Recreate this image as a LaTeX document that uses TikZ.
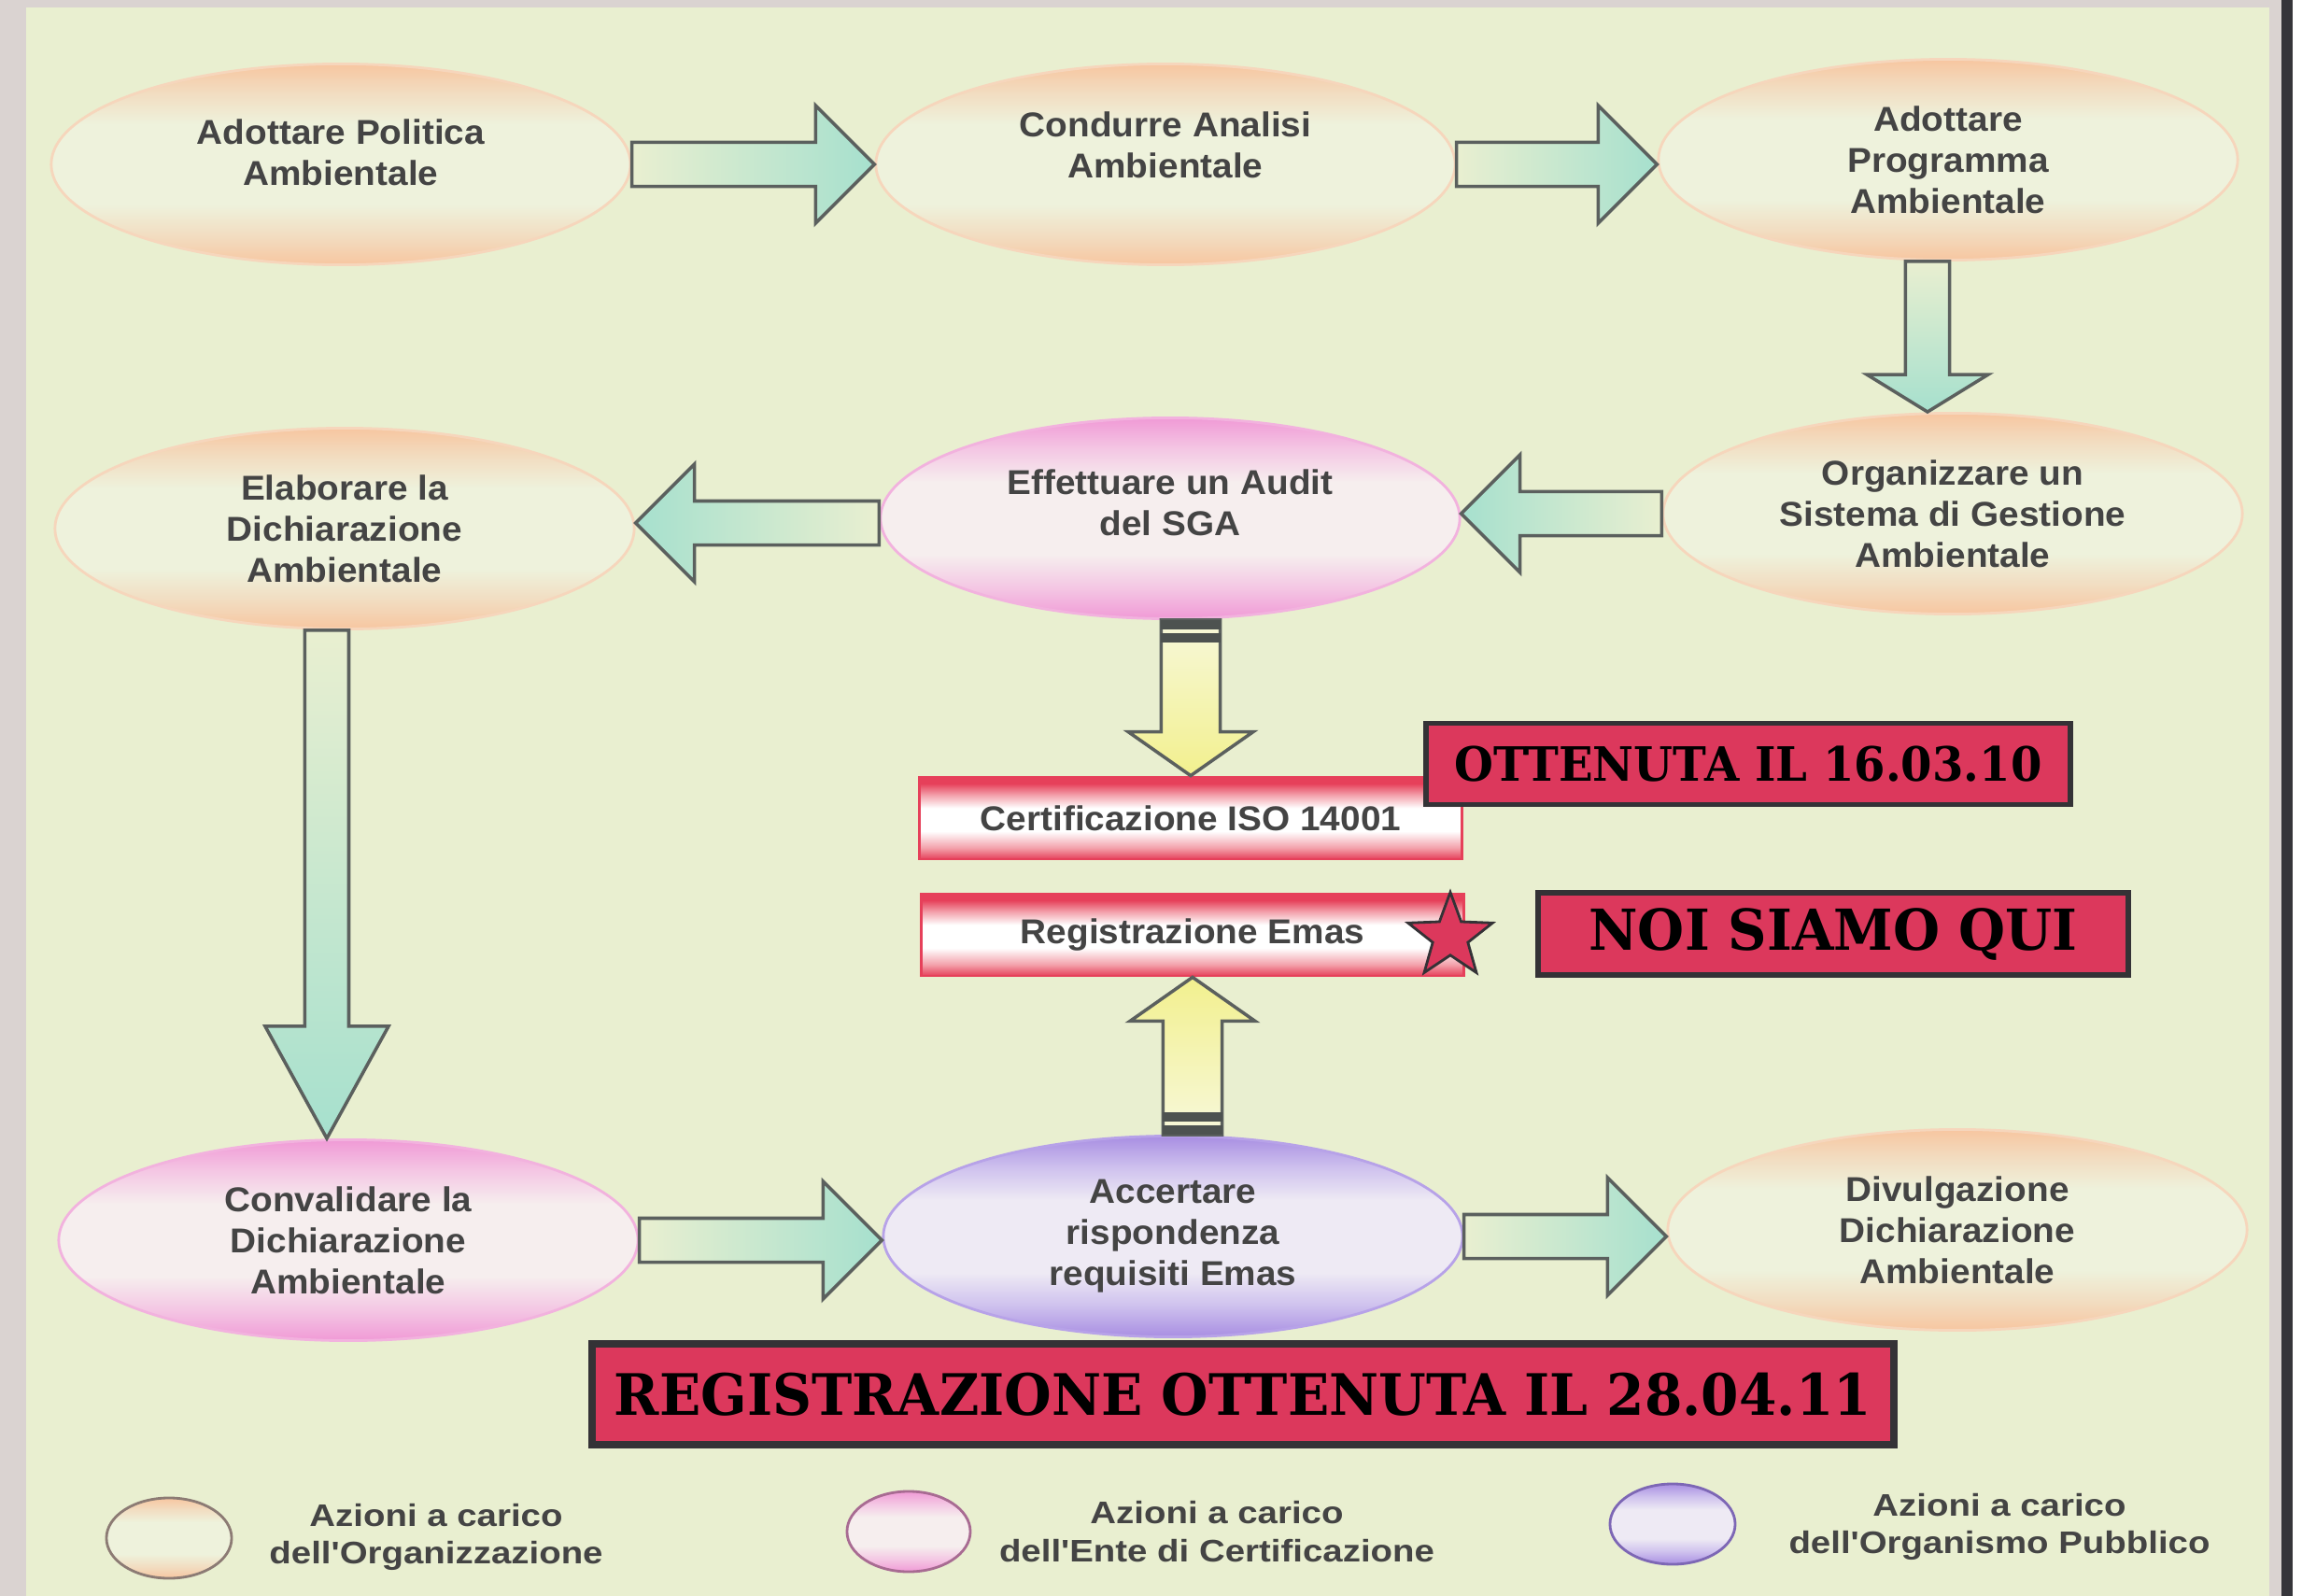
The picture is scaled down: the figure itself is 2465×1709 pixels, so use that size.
\documentclass[tikz,border=0pt]{standalone}
\usepackage{fontspec}
\setmainfont{Liberation Sans}[FakeStretch=1.05]
\newfontfamily\widesans[FakeStretch=1.15]{Liberation Sans}
\newfontfamily\slabfont[FakeStretch=0.95]{DejaVu Serif}
\usepackage{tikz}
\usetikzlibrary{shapes.geometric,calc}

\definecolor{bggreen}{HTML}{E9EFD0}
\definecolor{ovalpale}{HTML}{EEF2DC}
\definecolor{framegrey}{HTML}{DAD3D1}
\definecolor{darkstrip}{HTML}{36353A}
\definecolor{peach}{HTML}{F7C6A0}
\definecolor{peachsoft}{HTML}{F2DCC0}
\definecolor{peachline}{HTML}{F6D6BC}
\definecolor{pinky}{HTML}{F09AD6}
\definecolor{pinksoft}{HTML}{F4C8E4}
\definecolor{pinkpale}{HTML}{F6EEEE}
\definecolor{pinkline}{HTML}{F2B2DE}
\definecolor{lilac}{HTML}{A88EE2}
\definecolor{lilacsoft}{HTML}{CFC2EE}
\definecolor{lilacpale}{HTML}{EEEAF4}
\definecolor{lilacline}{HTML}{B7A2E8}
\definecolor{tealfill}{HTML}{A6E0CE}
\definecolor{arrowgrey}{HTML}{5B605E}
\definecolor{lemon}{HTML}{F2F08E}
\definecolor{lemonpale}{HTML}{F7F8DA}
\definecolor{barred}{HTML}{E6405A}
\definecolor{barsoft}{HTML}{F3A2AC}
\definecolor{boxred}{HTML}{DC385C}
\definecolor{stampline}{HTML}{343236}
\definecolor{textgrey}{HTML}{444444}
\definecolor{keybrown}{HTML}{8C7B74}
\definecolor{keypink}{HTML}{A86B92}
\definecolor{keylilac}{HTML}{7D67B5}

\pgfdeclareverticalshading{peachoval}{100bp}{color(0bp)=(peach); color(25bp)=(peach); color(32bp)=(peachsoft); color(40bp)=(ovalpale); color(60bp)=(ovalpale); color(68bp)=(peachsoft); color(75bp)=(peach); color(100bp)=(peach)}
\pgfdeclareverticalshading{pinkoval}{100bp}{color(0bp)=(pinky); color(25bp)=(pinky); color(33bp)=(pinksoft); color(41bp)=(pinkpale); color(59bp)=(pinkpale); color(67bp)=(pinksoft); color(75bp)=(pinky); color(100bp)=(pinky)}
\pgfdeclareverticalshading{lilacoval}{100bp}{color(0bp)=(lilac); color(25bp)=(lilac); color(33bp)=(lilacsoft); color(41bp)=(lilacpale); color(59bp)=(lilacpale); color(67bp)=(lilacsoft); color(75bp)=(lilac); color(100bp)=(lilac)}
\pgfdeclareverticalshading{redbar}{100bp}{color(0bp)=(barred); color(25bp)=(barred); color(32bp)=(barsoft); color(42bp)=(white); color(56bp)=(white); color(64bp)=(barsoft); color(71bp)=(barred); color(100bp)=(barred)}

\newcommand{\asw}{0.235cm}
\newcommand{\ahw}{0.63cm}
\newcommand{\ahl}{0.63cm}
\newcommand{\blockarrow}[3][]{%
  \path (#2) coordinate (at0) (#3) coordinate (at1);
  \draw[blockarrow,#1] ($(at0)!\asw!90:(at1)$)
    -- ($(at1)!\ahl!(at0)!\asw!90:(at1)$)
    -- ($(at1)!\ahl!(at0)!\ahw!90:(at1)$)
    -- (at1)
    -- ($(at1)!\ahl!(at0)!\ahw!-90:(at1)$)
    -- ($(at1)!\ahl!(at0)!\asw!-90:(at1)$)
    -- ($(at0)!\asw!-90:(at1)$) -- cycle;}

\tikzset{
  arrow shaft/.code={\renewcommand{\asw}{#1}},
  arrow head/.code={\renewcommand{\ahw}{#1}},
  arrow length/.code={\renewcommand{\ahl}{#1}},
  oval/.style={ellipse, minimum width=6.2cm, minimum height=2.15cm, inner sep=0pt,
    line width=0.8pt, align=center, text=textgrey, font=\bfseries\fontsize{10.5}{12.5}\selectfont},
  orgoval/.style={oval, draw=peachline, shade, shading=peachoval},
  certoval/.style={oval, draw=pinkline, shade, shading=pinkoval},
  pubboval/.style={oval, draw=lilacline, shade, shading=lilacoval},
  bar/.style={rectangle, minimum width=5.8cm, minimum height=0.88cm, draw=barred, line width=0.8pt,
    shade, shading=redbar, text=textgrey, font=\bfseries\fontsize{10.5}{12}\selectfont},
  stamp/.style={rectangle, draw=stampline, line width=1.6pt, fill=boxred, inner sep=0pt,
    font=\slabfont\bfseries\fontsize{14.4}{16}\selectfont},
  keytext/.style={align=center, text=textgrey, font=\widesans\bfseries\fontsize{9.5}{11.6}\selectfont},
  blockarrow/.style={draw=arrowgrey, line width=1pt, line join=miter},
  tealright/.style={left color=bggreen, middle color=tealfill!40!bggreen, right color=tealfill},
  tealleft/.style={right color=bggreen, middle color=tealfill!40!bggreen, left color=tealfill},
  tealdown/.style={top color=bggreen, middle color=tealfill!40!bggreen, bottom color=tealfill},
  lemondown/.style={arrow shaft=0.315cm, arrow head=0.67cm, arrow length=0.47cm,
    top color=lemonpale, bottom color=lemon},
  lemonup/.style={arrow shaft=0.315cm, arrow head=0.67cm, arrow length=0.47cm,
    bottom color=lemonpale, top color=lemon},
  grip/.style={fill=arrowgrey!85!black}
}

\begin{document}
\begin{tikzpicture}[x=0.01cm,y=-0.01cm]
  \useasboundingbox (0,0) rectangle (2465,1709);
  % frame and background
  \fill[framegrey] (0,0) rectangle (2465,1709);
  \fill[bggreen] (28,8) rectangle (2430,1709);
  \fill[darkstrip] (2443,0) rectangle (2455,1709);
  \fill[white] (2455,0) rectangle (2465,1709);

  % steps
  \node[orgoval] (politica) at (365,176) {Adottare Politica\\Ambientale\\[-5.3pt]};
  \node[orgoval] (analisi) at (1248,176) {Condurre Analisi\\Ambientale\\[-0.5pt]};
  \node[orgoval] (programma) at (2086,171) {Adottare\\Programma\\Ambientale};
  \node[orgoval] (sistema) at (2091,550) {Organizzare un\\Sistema di Gestione\\Ambientale};
  \node[certoval] (audit) at (1253,555) {Effettuare un Audit\\del SGA\\[-3.1pt]};
  \node[orgoval] (elabora) at (369,566) {Elaborare la\\Dichiarazione\\Ambientale};
  \node[certoval] (convalida) at (373,1328) {Convalidare la\\Dichiarazione\\Ambientale};
  \node[pubboval] (accerta) at (1256,1324) {Accertare\\rispondenza\\requisiti Emas};
  \node[orgoval] (divulga) at (2096,1317) {Divulgazione\\Dichiarazione\\Ambientale};

  % certificates
  \node[bar] (iso) at (1275,876) {Certificazione ISO 14001};
  \node[bar] (emas) at (1277,1001) {Registrazione Emas};
  \node[star, star points=5, star point ratio=2.4, minimum size=0.95cm, inner sep=0pt,
    fill=boxred, draw=stampline, line width=0.8pt] (qui) at (1553,1003) {};

  % notes
  \node[stamp, minimum width=6.89cm, minimum height=0.87cm] (isodata) at (1872,818) {OTTENUTA IL 16.03.10};
  \node[stamp, minimum width=6.32cm, minimum height=0.88cm, font=\slabfont\bfseries\fontsize{17.2}{19}\selectfont] (noi) at (1963,1000) {NOI SIAMO QUI};
  \node[stamp, minimum width=13.93cm, minimum height=1.08cm, line width=2.2pt, font=\slabfont\bfseries\fontsize{17.4}{19}\selectfont] (emasdata) at (1331,1493) {REGISTRAZIONE OTTENUTA IL 28.04.11};

  % arrows
  \blockarrow[tealright]{politica.east}{politica.east -| analisi.west}
  \blockarrow[tealright]{analisi.east}{analisi.east -| programma.west}
  \coordinate (progfoot) at ([xshift=-0.22cm]programma.south);
  \blockarrow[tealdown, arrow length=0.4cm, arrow head=0.65cm]{progfoot}{progfoot |- sistema.north}
  \blockarrow[tealleft]{sistema.west}{sistema.west -| audit.east}
  \blockarrow[tealleft]{[yshift=-0.05cm]audit.west}{[yshift=-0.05cm]audit.west -| elabora.east}
  \coordinate (elabfoot) at ([xshift=-0.19cm]elabora.south);
  \blockarrow[tealdown, arrow length=1.2cm, arrow head=0.66cm]{elabfoot}{elabfoot |- convalida.north}
  \blockarrow[tealright]{convalida.east}{convalida.east -| accerta.west}
  \blockarrow[tealright]{accerta.east}{accerta.east -| divulga.west}

  \coordinate (auditfoot) at (audit.south -| iso.north);
  \blockarrow[lemondown]{auditfoot}{iso.north}
  \fill[grip] ([xshift=-0.315cm]auditfoot) rectangle ([xshift=0.315cm,yshift=-0.1cm]auditfoot);
  \fill[grip] ([xshift=-0.315cm,yshift=-0.14cm]auditfoot) rectangle ([xshift=0.315cm,yshift=-0.24cm]auditfoot);
  \coordinate (accertatop) at (accerta.north -| emas.south);
  \blockarrow[lemonup]{accertatop}{emas.south}
  \fill[grip] ([xshift=-0.315cm]accertatop) rectangle ([xshift=0.315cm,yshift=0.1cm]accertatop);
  \fill[grip] ([xshift=-0.315cm,yshift=0.14cm]accertatop) rectangle ([xshift=0.315cm,yshift=0.24cm]accertatop);

  % legend
  \node[orgoval, draw=keybrown, minimum width=1.34cm, minimum height=0.86cm] (keyorg) at (181,1647) {};
  \node[keytext] (keyorgtext) at (467,1646) {Azioni a carico\\dell'Organizzazione};
  \node[certoval, draw=keypink, minimum width=1.32cm, minimum height=0.86cm] (keycert) at (973,1640) {};
  \node[keytext] (keycerttext) at (1303,1640) {Azioni a carico\\dell'Ente di Certificazione};
  \node[pubboval, draw=keylilac, minimum width=1.34cm, minimum height=0.86cm] (keypubb) at (1791,1632) {};
  \node[keytext] (keypubbtext) at (2141,1635) {Azioni a carico\\dell'Organismo Pubblico};
\end{tikzpicture}
\end{document}
